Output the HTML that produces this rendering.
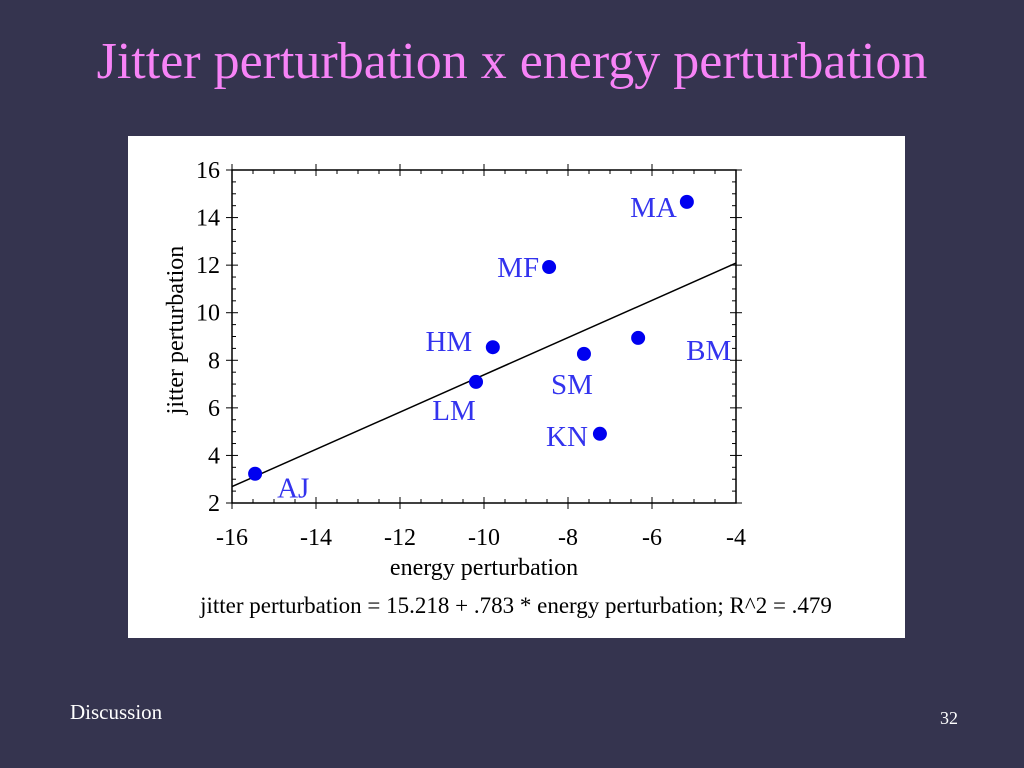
<!DOCTYPE html>
<html><head><meta charset="utf-8"><style>
body{margin:0;width:1024px;height:768px;background:#35344f;overflow:hidden;font-family:"Liberation Serif",serif;position:relative}
#title{position:absolute;left:0;width:1024px;top:32px;text-align:center;color:#f783f7;font-size:52px;line-height:60px}
#panel{position:absolute;left:128px;top:136px;width:777px;height:502px;background:#fff}
#foot{position:absolute;left:70px;top:700px;color:#fff;font-size:21px}
#num{position:absolute;left:940px;top:708px;color:#fff;font-size:18px}
</style></head><body>
<div id="title">Jitter perturbation x energy perturbation</div>
<div id="panel"></div>
<svg id="chart" width="1024" height="768" style="position:absolute;left:0;top:0"></svg>
<div id="foot">Discussion</div>
<div id="num">32</div>
<script>
const names=["AJ","LM","HM","MF","SM","KN","BM","MA"];
const energy=[-15.45,-10.19,-9.79,-8.45,-7.62,-7.24,-6.33,-5.17];
const jitter=[3.23,7.09,8.55,11.92,8.27,4.91,8.94,14.66];
const xTicks=[-16,-14,-12,-10,-8,-6,-4];
const yTicks=[2,4,6,8,10,12,14,16];
const intercept=15.218, slope=0.783;
const labelOff={AJ:[22,24],LM:[-22,38],HM:[-44,4],MF:[-10,10],SM:[-12,40],KN:[-12,12],BM:[48,22],MA:[-10,15]};
const X0=232,X1=736,Y0=503,Y1=170;
const sx=v=>X0+(v+16)/12*(X1-X0);
const sy=v=>Y0-(v-2)/14*(Y0-Y1);
const svg=document.getElementById('chart');
const NS='http://www.w3.org/2000/svg';
function mk(t,a,txt){const e=document.createElementNS(NS,t);for(const k in a)e.setAttribute(k,a[k]);if(txt!==undefined)e.textContent=txt;svg.appendChild(e);return e;}
let e=mk('rect',{x:X0,y:Y1,width:X1-X0,height:Y0-Y1,fill:'none',stroke:'#000','stroke-width':1.5});


for(let v=-16;v<=-4.001;v+=0.5){const x=sx(v);const maj=Math.abs(v-Math.round(v))<1e-6&&Math.round(v)%2===0;
 const l=maj?6:4;
 mk('line',{x1:x,x2:x,y1:Y0-l,y2:Y0+(maj?6:0),stroke:'#000','stroke-width':1});
 mk('line',{x1:x,x2:x,y1:Y1+l,y2:Y1-(maj?6:0),stroke:'#000','stroke-width':1});}
for(let v=2;v<=16.001;v+=0.5){const y=sy(v);const maj=Math.abs(v-Math.round(v))<1e-6&&Math.round(v)%2===0;
 const l=maj?6:4;
 mk('line',{x1:X0-(maj?6:0),x2:X0+l,y1:y,y2:y,stroke:'#000','stroke-width':1});
 mk('line',{x1:X1+(maj?6:0),x2:X1-l,y1:y,y2:y,stroke:'#000','stroke-width':1});}
xTicks.forEach(v=>{const t=mk('text',{x:sx(v),y:Y0+42,'text-anchor':'middle','font-size':24,fill:'#000'},String(v));

});
yTicks.forEach(v=>{const t=mk('text',{x:X0-12,y:sy(v)+8,'text-anchor':'end','font-size':24,fill:'#000'},String(v));

});
e=mk('line',{x1:sx(-16),y1:sy(intercept+slope*-16),x2:sx(-4),y2:sy(intercept+slope*-4),stroke:'#000','stroke-width':1.5});


names.forEach((n,i)=>{const cx=sx(energy[i]),cy=sy(jitter[i]);
 const c=mk('circle',{cx:cx,cy:cy,r:7,fill:'#0000f0'});
 
 
 const o=labelOff[n];
 const t=mk('text',{x:cx+o[0],y:cy+o[1],'text-anchor':o[0]<0?'end':'start','font-size':29,fill:'#3333ee'},n);
 if(o[0]<0&&(n==='LM'||n==='SM'||n==='HM'))t.setAttribute('text-anchor','middle');
 
 });
e=mk('text',{x:484,y:575,'text-anchor':'middle','font-size':24,fill:'#000'},'energy perturbation');


e=mk('text',{x:183,y:330,'text-anchor':'middle','font-size':24,fill:'#000',transform:'rotate(-90 183 330)'},'jitter perturbation');


e=mk('text',{x:516,y:613,'text-anchor':'middle','font-size':23,fill:'#000'},'jitter perturbation = 15.218 + .783 * energy perturbation; R^2 = .479');


</script>
</body></html>
